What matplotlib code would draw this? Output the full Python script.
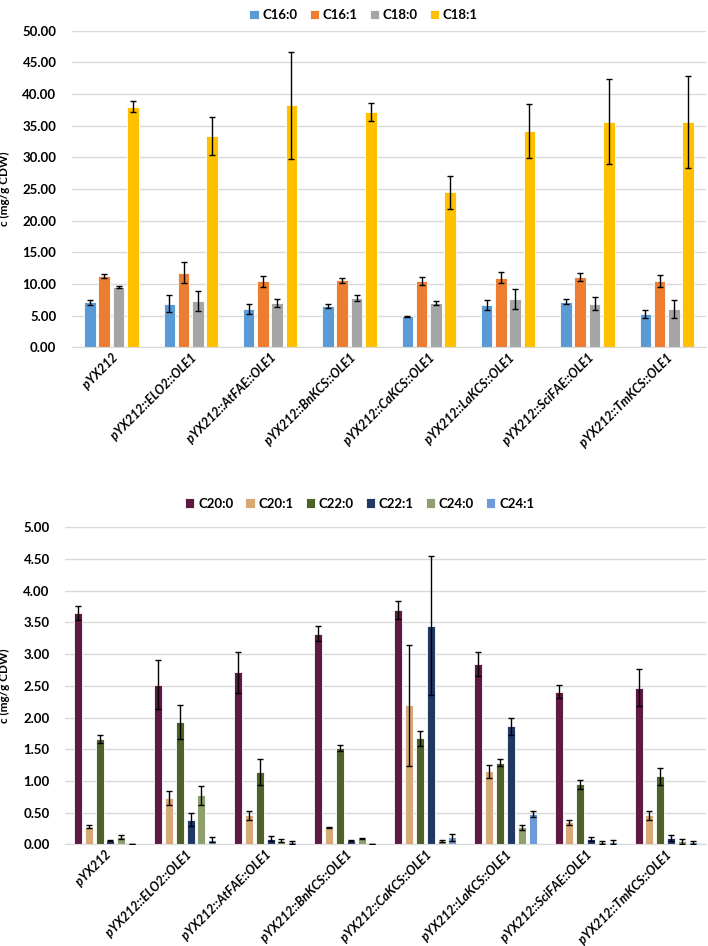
import numpy as np
import matplotlib
matplotlib.use("Agg")
from matplotlib import pyplot as plt

plt.rcParams['font.family'] = ['Lato', 'DejaVu Sans']

strains = ['pYX212', 'pYX212::ELO2::OLE1', 'pYX212::AtFAE::OLE1', 'pYX212::BnKCS::OLE1',
           'pYX212::CaKCS::OLE1', 'pYX212::LaKCS::OLE1', 'pYX212::SciFAE::OLE1', 'pYX212::TmKCS::OLE1']

# top chart, mg/g CDW
top_names = ['C16:0', 'C16:1', 'C18:0', 'C18:1']
top_colors = ['#5B9BD5', '#ED7D31', '#A5A5A5', '#FFC000']
c16_0 = [7.1, 6.9, 6.0, 6.5, 4.9, 6.7, 7.2, 5.3]
c16_0_err = [0.4, 1.3, 0.8, 0.3, 0.1, 0.8, 0.4, 0.6]
c16_1 = [11.2, 11.8, 10.4, 10.6, 10.5, 11.0, 11.1, 10.5]
c16_1_err = [0.3, 1.6, 0.8, 0.4, 0.6, 0.9, 0.6, 0.9]
c18_0 = [9.5, 7.3, 7.0, 7.8, 7.0, 7.6, 6.9, 6.1]
c18_0_err = [0.2, 1.6, 0.6, 0.5, 0.3, 1.6, 1.0, 1.4]
c18_1 = [38.0, 33.3, 38.2, 37.2, 24.5, 34.2, 35.6, 35.6]
c18_1_err = [0.9, 3.0, 8.5, 1.4, 2.6, 4.3, 6.7, 7.3]

# bottom chart, mg/g CDW
bot_names = ['C20:0', 'C20:1', 'C22:0', 'C22:1', 'C24:0', 'C24:1']
bot_colors = ['#5E1A40', '#D6A977', '#4F6228', '#1F3864', '#8EA06E', '#6E9BD8']
c20_0 = [3.65, 2.52, 2.71, 3.32, 3.69, 2.84, 2.41, 2.47]
c20_0_err = [0.11, 0.39, 0.33, 0.12, 0.14, 0.19, 0.10, 0.29]
c20_1 = [0.28, 0.73, 0.46, 0.27, 2.19, 1.15, 0.35, 0.46]
c20_1_err = [0.02, 0.11, 0.07, 0.01, 0.95, 0.10, 0.04, 0.07]
c22_0 = [1.66, 1.93, 1.14, 1.52, 1.67, 1.29, 0.95, 1.07]
c22_0_err = [0.07, 0.27, 0.20, 0.05, 0.12, 0.06, 0.07, 0.13]
c22_1 = [0.06, 0.39, 0.09, 0.06, 3.45, 1.86, 0.08, 0.10]
c22_1_err = [0.01, 0.10, 0.04, 0.01, 1.09, 0.13, 0.03, 0.04]
c24_0 = [0.11, 0.77, 0.06, 0.09, 0.05, 0.27, 0.03, 0.05]
c24_0_err = [0.03, 0.15, 0.03, 0.01, 0.02, 0.04, 0.03, 0.04]
c24_1 = [0.005, 0.07, 0.03, 0.005, 0.11, 0.48, 0.04, 0.03]
c24_1_err = [0.0, 0.04, 0.02, 0.0, 0.06, 0.05, 0.03, 0.02]

top_vals = [c16_0, c16_1, c18_0, c18_1]
top_errs = [c16_0_err, c16_1_err, c18_0_err, c18_1_err]
bot_vals = [c20_0, c20_1, c22_0, c22_1, c24_0, c24_1]
bot_errs = [c20_0_err, c20_1_err, c22_0_err, c22_1_err, c24_0_err, c24_1_err]

fig = plt.figure(figsize=(7.08, 9.46), dpi=100)
ax1 = fig.add_axes([0.1013, 0.6329, 0.8964, 0.3346])
ax2 = fig.add_axes([0.0918, 0.1075, 0.9050, 0.3351])

x = np.arange(len(strains))


def draw(ax, vals, errs, names, colors, width, step, ymax, ystep, legend_y, label_x):
    n = len(vals)
    for i in range(n):
        pos = x + (i - (n - 1) / 2) * step
        ax.bar(pos, vals[i], width, color=colors[i], edgecolor='white', linewidth=0.6,
               label=names[i], zorder=2)
        ax.errorbar(pos, vals[i], yerr=errs[i], fmt='none', ecolor='black',
                    elinewidth=1, capsize=2.5, capthick=1, zorder=3)
    ax.set_xlim(-0.5, len(strains) - 0.5)
    ax.set_ylim(0, ymax)
    ticks = np.arange(0, ymax + ystep / 2, ystep)
    ax.set_yticks(ticks)
    ax.set_yticklabels(['%.2f' % t for t in ticks], fontsize=9.5, fontweight='bold')
    ax.yaxis.grid(True, color='#D9D9D9', linewidth=1, zorder=0)
    ax.set_axisbelow(True)
    for s in ['top', 'right', 'left']:
        ax.spines[s].set_visible(False)
    ax.spines['bottom'].set_color('#D9D9D9')
    ax.tick_params(axis='both', length=0)
    ax.tick_params(axis='y', pad=11)
    ax.set_xticks(x)
    ax.set_xticklabels(strains, rotation=45, ha='right', rotation_mode='anchor',
                       fontsize=9, fontweight='bold', fontstyle='italic')
    ax.tick_params(axis='x', pad=3)
    ax.set_ylabel('c (mg/g CDW)', fontsize=8.5, fontweight='bold')
    ax.yaxis.set_label_coords(label_x, 0.5)
    ax.legend(loc='center', bbox_to_anchor=(0.46, legend_y), ncol=n, frameon=False,
              prop={'weight': 'bold', 'size': 9.5}, handlelength=0.7,
              handleheight=0.7, handletextpad=0.3, columnspacing=0.9)


draw(ax1, top_vals, top_errs, top_names, top_colors, 0.145, 0.18, 50, 5, 1.05, -0.097)
draw(ax2, bot_vals, bot_errs, bot_names, bot_colors, 0.10, 0.135, 5, 0.5, 1.075, -0.086)

fig.savefig('out.png', dpi=100)
